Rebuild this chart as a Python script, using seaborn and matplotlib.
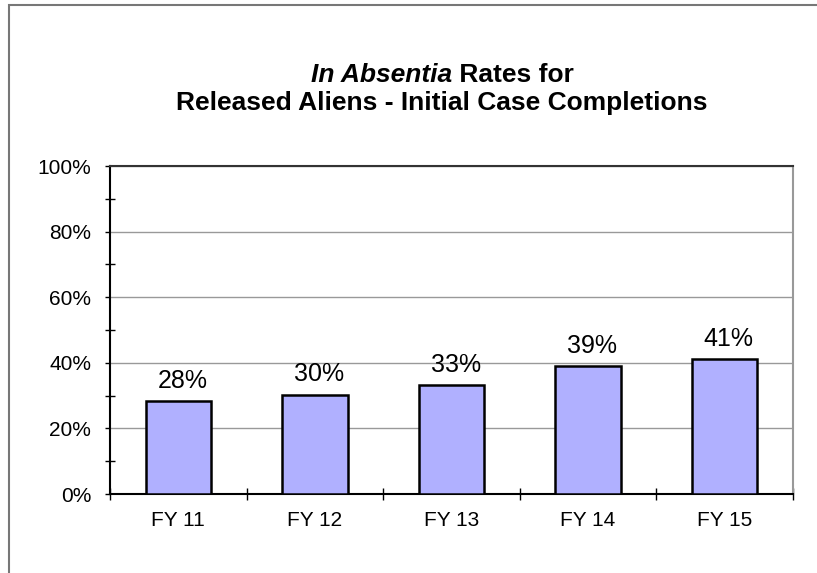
import numpy as np
import pandas as pd
import seaborn as sns
import matplotlib.pyplot as plt
from matplotlib.patches import Rectangle
from matplotlib.ticker import MultipleLocator, FuncFormatter

# data
years = ["FY 11", "FY 12", "FY 13", "FY 14", "FY 15"]
rates = [28.3, 30.3, 33.2, 39.1, 41.2]
rate_labels = ["28%", "30%", "33%", "39%", "41%"]

sns.set_theme(style="white")
plt.rcParams['font.family'] = ['Liberation Sans', 'DejaVu Sans']
plt.rcParams['text.color'] = 'black'
plt.rcParams['xtick.labelcolor'] = 'black'
plt.rcParams['ytick.labelcolor'] = 'black'

df = pd.DataFrame({"year": years, "rate": rates})

fig = plt.figure(figsize=(8.17, 5.73), dpi=100)
ax = fig.add_axes([110/817, 1 - 494/573, (793 - 110)/817, (494 - 166)/573])

sns.barplot(data=df, x="year", y="rate", color="#B0B0FF", saturation=1,
            width=0.48, edgecolor="black", linewidth=1.8, ax=ax, zorder=3)

ax.set_ylim(0, 100)
ax.set_xlim(-0.5, len(years) - 0.5)
ax.yaxis.set_major_locator(MultipleLocator(20))
ax.yaxis.set_minor_locator(MultipleLocator(10))
ax.yaxis.set_major_formatter(FuncFormatter(lambda v, p: "%d%%" % v))
ax.set_xlabel("")
ax.set_ylabel("")

# gridlines
ax.yaxis.grid(True, which="major", color="#999999", linewidth=1, zorder=0)
ax.set_axisbelow(True)

# ticks
ax.tick_params(axis="y", which="major", direction="out", length=3.6, width=1,
               color="black", labelsize=15, pad=10, left=True)
ax.tick_params(axis="y", which="minor", direction="inout", length=6.5, width=1,
               color="black", left=True)
ax.tick_params(axis="x", which="major", length=0, labelsize=15, pad=12)
ax.set_xticks(np.arange(-0.5, len(years), 1), minor=True)
ax.tick_params(axis="x", which="minor", direction="inout", length=8.6, width=1,
               color="black", bottom=True)

for s in ["left", "bottom"]:
    ax.spines[s].set_color("black")
    ax.spines[s].set_linewidth(1.5)
ax.spines["top"].set_color("#333333")
ax.spines["top"].set_linewidth(1.5)
ax.spines["right"].set_color("#999999")
ax.spines["right"].set_linewidth(1.5)

# value labels
for i, (v, lab) in enumerate(zip(rates, rate_labels)):
    ax.text(i + 0.03, v + 2.5, lab, ha="center", va="bottom", fontsize=18,
            color="black")

# title with italic part
renderer = fig.canvas.get_renderer()
cx = 442 / 817
t1 = fig.text(0, 1 - 82/573, "In Absentia", fontsize=19, fontweight="bold",
              fontstyle="italic", ha="right", va="baseline")
t2 = fig.text(0, 1 - 82/573, " Rates for", fontsize=19, fontweight="bold",
              ha="left", va="baseline")
w1 = t1.get_window_extent(renderer).width / fig.bbox.width
w2 = t2.get_window_extent(renderer).width / fig.bbox.width
split = cx - (w1 + w2) / 2 + w1
t1.set_x(split)
t2.set_x(split)
fig.text(cx, 1 - 110/573, "Released Aliens - Initial Case Completions",
         fontsize=19, fontweight="bold", ha="center", va="baseline")

# chart border
fig.patches.append(Rectangle((9/817, -0.1), 1.2, 1.1 - 5/573,
                             transform=fig.transFigure, fill=False,
                             edgecolor="#777777", linewidth=1.5))

fig.savefig("out.png", dpi=100)
